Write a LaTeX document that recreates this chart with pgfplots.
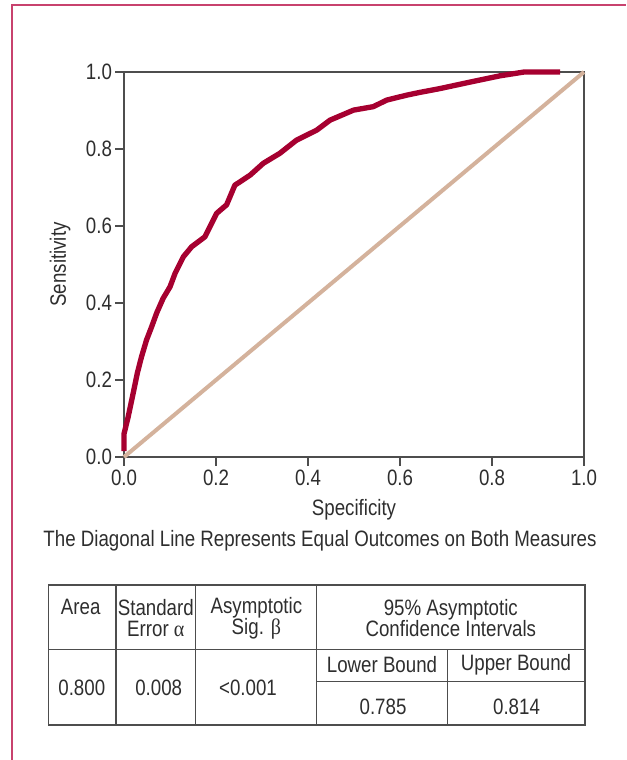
\documentclass[border=0pt]{standalone}
\usepackage{fontspec}
\setmainfont{Liberation Sans}[FakeStretch=0.84]
\newfontfamily\grk{Liberation Serif}[FakeStretch=0.9]
\usepackage{pgfplots}
\pgfplotsset{compat=1.18}
\definecolor{rocred}{HTML}{A60030}
\definecolor{diag}{HTML}{D4B29C}
\definecolor{framec}{HTML}{C8426E}
\definecolor{axgray}{HTML}{4D4D4D}
\definecolor{txt}{HTML}{2E2E2E}
\begin{document}
\begin{tikzpicture}[x=0.75pt,y=-0.75pt,font=\fontsize{16.7}{15.8}\selectfont]
\path[use as bounding box] (0,0) rectangle (626,760);
% outer frame (only left and top visible)
\draw[framec, line width=1.5pt] (12,760) -- (12,5) -- (626,5);

\begin{axis}[
  at={(93pt,-342.75pt)}, anchor=south west,
  scale only axis, width=345pt, height=288.75pt,
  xmin=0, xmax=1, ymin=0, ymax=1,
  xtick={0,0.2,0.4,0.6,0.8,1}, ytick={0,0.2,0.4,0.6,0.8,1},
  xtick pos=bottom, ytick pos=left,
  tick align=outside, major tick length=6.5pt,
  axis line style={axgray, line width=1.1pt},
  tick style={axgray, line width=1.1pt},
  tick label style={txt, /pgf/number format/fixed, /pgf/number format/fixed zerofill,
    /pgf/number format/precision=1, /pgf/number format/assume math mode=true},
  yticklabel style={xshift=1pt},
  xlabel={Specificity}, ylabel={Sensitivity},
  label style={txt},
  xlabel style={at={(axis description cs:0.5,-0.138)}, anchor=center},
  ylabel style={at={(axis description cs:-0.139,0.5)}, anchor=center},
  clip=false,
]
\addplot[diag, line width=3pt] coordinates {(0,0)(1,1)};
\addplot[rocred, line width=4pt, line join=round] coordinates {
(0,0.015)(0,0.06)(0.009,0.104)(0.02,0.166)(0.029,0.218)(0.038,0.26)
(0.049,0.304)(0.06,0.338)(0.071,0.374)(0.085,0.412)(0.1,0.442)(0.111,0.477)
(0.129,0.52)(0.147,0.546)(0.176,0.572)(0.2015,0.633)(0.223,0.655)(0.241,0.706)
(0.274,0.732)(0.303,0.763)(0.339,0.789)(0.375,0.823)(0.419,0.849)(0.448,0.875)
(0.499,0.901)(0.542,0.91)(0.571,0.927)(0.615,0.94)(0.643,0.947)(0.687,0.957)
(0.757,0.975)(0.817,0.99)(0.87,1.0)(0.948,1.0)};
\end{axis}

\node[txt] at (320,541) {The Diagonal Line Represents Equal Outcomes on Both Measures};

% table
\begin{scope}[axgray, line width=1.1pt]
\draw (48.5,585) rectangle (585,725);
\draw (48.5,649.3) -- (585,649.3);
\draw (115.8,585) -- (115.8,725);
\draw (195.4,585) -- (195.4,725);
\draw (316.7,585) -- (316.7,725);
\draw (447.3,649.3) -- (447.3,725);
\draw (316.7,681.7) -- (585,681.7);
\end{scope}
\begin{scope}[txt]
\node at (80.7,607) {Area};
\node[align=center, inner sep=0pt] at (155.8,618) {Standard\\Error {\grk α}};
\node[align=center, inner sep=0pt] at (256.4,618) {Asymptotic\\Sig. {\grk β}};
\node[align=center, inner sep=0pt] at (450.8,618) {95\% Asymptotic\\Confidence Intervals};
\node at (382,665) {Lower Bound};
\node at (516,665) {Upper Bound};
\node at (81.8,688) {0.800};
\node at (158.7,688) {0.008};
\node at (248,688) {<0.001};
\node at (383,706.7) {0.785};
\node at (516.5,706.7) {0.814};
\end{scope}
\end{tikzpicture}
\end{document}
